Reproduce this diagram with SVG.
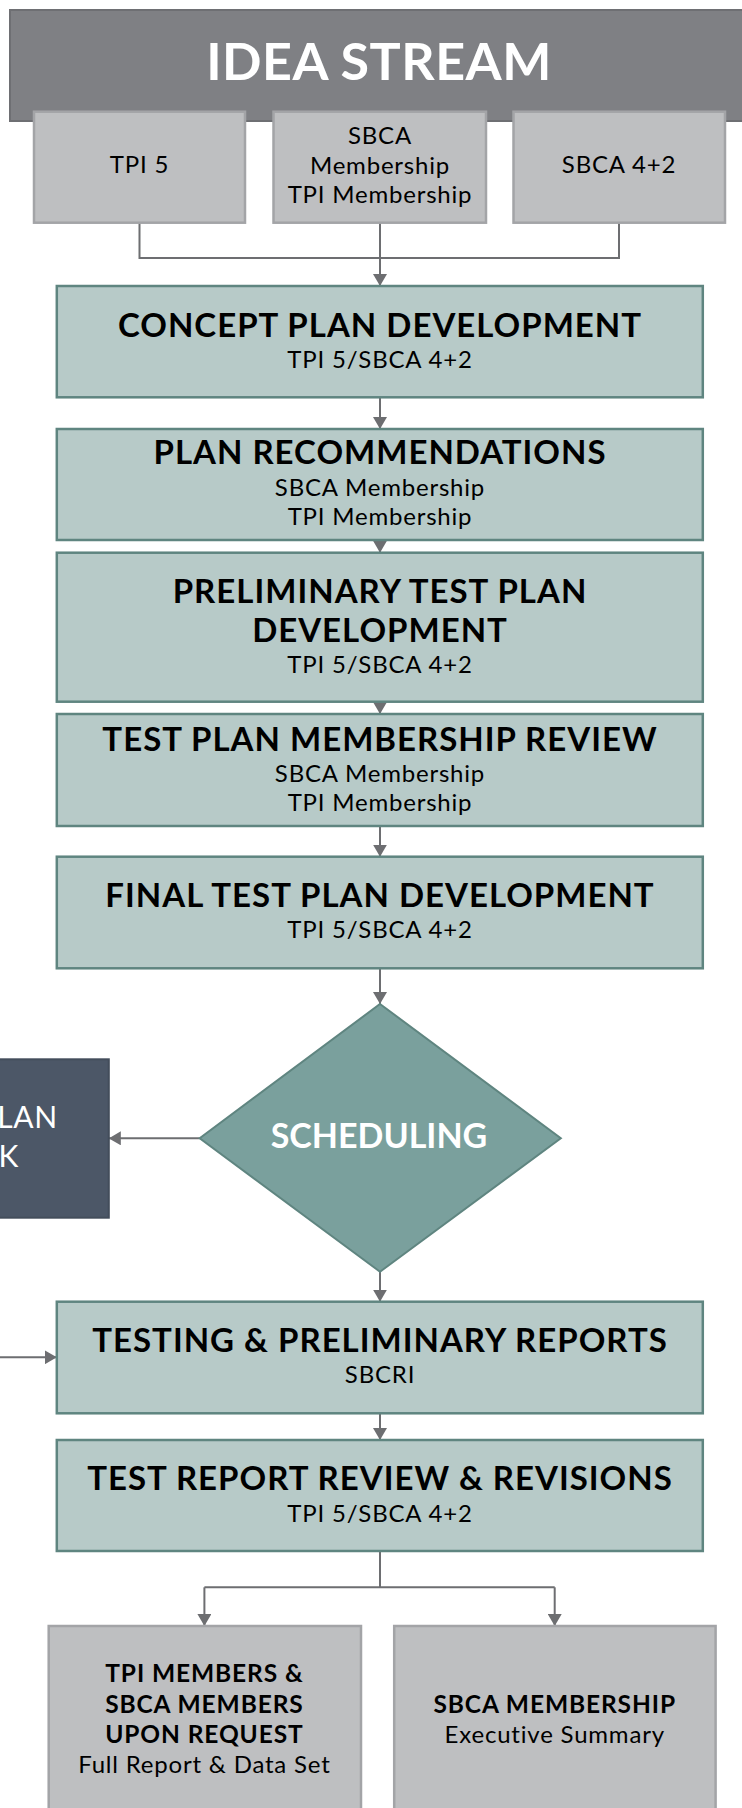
<svg xmlns="http://www.w3.org/2000/svg" width="742" height="1808" viewBox="0 0 742 1808">
<style>
.banner{fill:#7f8084;stroke:#6e6f73;stroke-width:2}
.gbox{fill:#bebfc1;stroke:#a3a4a7;stroke-width:2.5}
.tbox{fill:#b7cac8;stroke:#5f8580;stroke-width:2.5}
.diam{fill:#7aa09d;stroke:#5f8580;stroke-width:2}
.dark{fill:#4c5767;stroke:#434d5b;stroke-width:2}
.conn{fill:none;stroke:#6d6e71;stroke-width:2}
text{font-family:Lato,"Open Sans","DejaVu Sans",sans-serif;text-anchor:middle;fill:#000}
.t{font-weight:700;font-size:33px;letter-spacing:1px}
.s{font-weight:400;font-size:24px;letter-spacing:0.8px}
.sb{font-weight:700;font-size:24.5px;letter-spacing:0.9px}
.w{fill:#fff}
</style>
<defs>
<marker id="ah" viewBox="0 0 12 14" refX="12" refY="7" markerWidth="12" markerHeight="14" markerUnits="userSpaceOnUse" orient="auto">
<path d="M0,0 L12,7 L0,14 z" fill="#6d6e71"/>
</marker>
</defs>
<g id="idea-stream">
<rect class="banner" x="10" y="10" width="745" height="111"/>
<text class="w" x="379" y="80" style="font-weight:700;font-size:52px;letter-spacing:0.5px">IDEA STREAM</text>
</g>
<g id="connectors">
<path class="conn" d="M139.5,222.7 V258 H619 V222.7"/>
<path class="conn" d="M380,222.7 V286" marker-end="url(#ah)"/>
<path class="conn" d="M380,397.3 V429" marker-end="url(#ah)"/>
<path class="conn" d="M380,540 V552.7" marker-end="url(#ah)"/>
<path class="conn" d="M380,701.7 V714" marker-end="url(#ah)"/>
<path class="conn" d="M380,826 V856.7" marker-end="url(#ah)"/>
<path class="conn" d="M380,968.3 V1004" marker-end="url(#ah)"/>
<path class="conn" d="M199.7,1138.3 H108.8" marker-end="url(#ah)"/>
<path class="conn" d="M380,1271.7 V1301.7" marker-end="url(#ah)"/>
<path class="conn" d="M0,1357.3 H56.8" marker-end="url(#ah)"/>
<path class="conn" d="M380,1413.3 V1440" marker-end="url(#ah)"/>
<path class="conn" d="M380,1551 V1587.3"/>
<path class="conn" d="M204.4,1587.3 H554.7"/>
<path class="conn" d="M204.4,1587.3 V1626" marker-end="url(#ah)"/>
<path class="conn" d="M554.7,1587.3 V1626" marker-end="url(#ah)"/>
</g>
<g id="tpi5">
<rect class="gbox" x="34" y="111.7" width="211" height="111"/>
<text class="s" x="139.5" y="173">TPI 5</text>
</g>
<g id="membership">
<rect class="gbox" x="273.5" y="111.7" width="212.5" height="111"/>
<text class="s" x="380" y="144">SBCA<tspan x="380" y="174">Membership</tspan><tspan x="380" y="203">TPI Membership</tspan></text>
</g>
<g id="sbca42">
<rect class="gbox" x="513.5" y="111.7" width="211.5" height="111"/>
<text class="s" x="619" y="173">SBCA 4+2</text>
</g>
<g id="concept">
<rect class="tbox" x="56.8" y="286" width="646" height="111.3"/>
<text x="380" y="336.7"><tspan class="t">CONCEPT PLAN DEVELOPMENT</tspan><tspan class="s" x="380" y="368.3">TPI 5/SBCA 4+2</tspan></text>
</g>
<g id="plan-rec">
<rect class="tbox" x="56.8" y="429" width="646" height="111"/>
<text x="380" y="464.3"><tspan class="t">PLAN RECOMMENDATIONS</tspan><tspan class="s" x="380" y="496">SBCA Membership</tspan><tspan class="s" x="380" y="525">TPI Membership</tspan></text>
</g>
<g id="prelim">
<rect class="tbox" x="56.8" y="552.7" width="646" height="149"/>
<text x="380" y="602.7"><tspan class="t">PRELIMINARY TEST PLAN</tspan><tspan class="t" x="380" y="641.7">DEVELOPMENT</tspan><tspan class="s" x="380" y="673.3">TPI 5/SBCA 4+2</tspan></text>
</g>
<g id="review">
<rect class="tbox" x="56.8" y="714" width="646" height="112"/>
<text x="380" y="751"><tspan class="t">TEST PLAN MEMBERSHIP REVIEW</tspan><tspan class="s" x="380" y="781.7">SBCA Membership</tspan><tspan class="s" x="380" y="810.7">TPI Membership</tspan></text>
</g>
<g id="final">
<rect class="tbox" x="56.8" y="856.7" width="646" height="111.6"/>
<text x="380" y="907.3"><tspan class="t">FINAL TEST PLAN DEVELOPMENT</tspan><tspan class="s" x="380" y="938.3">TPI 5/SBCA 4+2</tspan></text>
</g>
<g id="scheduling">
<polygon class="diam" points="380,1004 560.8,1138.3 380,1271.7 199.7,1138.3"/>
<text class="w" x="379" y="1147.7" style="font-weight:700;font-size:34px">SCHEDULING</text>
</g>
<g id="plan-box">
<rect class="dark" x="-10" y="1059.3" width="118.8" height="158.4"/>
<text class="w" style="font-size:30px;letter-spacing:0.6px;text-anchor:end" x="57.7" y="1128.3">LAN<tspan x="19" y="1166.7">K</tspan></text>
</g>
<g id="testing">
<rect class="tbox" x="56.8" y="1301.7" width="646" height="111.6"/>
<text x="380" y="1351.7"><tspan class="t">TESTING &amp; PRELIMINARY REPORTS</tspan><tspan class="s" x="380" y="1383.3">SBCRI</tspan></text>
</g>
<g id="report-review">
<rect class="tbox" x="56.8" y="1440" width="646" height="111"/>
<text x="380" y="1490"><tspan class="t">TEST REPORT REVIEW &amp; REVISIONS</tspan><tspan class="s" x="380" y="1521.7">TPI 5/SBCA 4+2</tspan></text>
</g>
<g id="full-report">
<rect class="gbox" x="48.7" y="1626" width="312.3" height="200"/>
<text x="204.4" y="1681.7"><tspan class="sb">TPI MEMBERS &amp;</tspan><tspan class="sb" x="204.4" y="1713.3">SBCA MEMBERS</tspan><tspan class="sb" x="204.4" y="1742.7">UPON REQUEST</tspan><tspan class="s" x="204.4" y="1772.7">Full Report &amp; Data Set</tspan></text>
</g>
<g id="exec-summary">
<rect class="gbox" x="394.2" y="1626" width="321.4" height="200"/>
<text x="554.7" y="1713.3"><tspan class="sb">SBCA MEMBERSHIP</tspan><tspan class="s" x="554.7" y="1742.7">Executive Summary</tspan></text>
</g>
</svg>
